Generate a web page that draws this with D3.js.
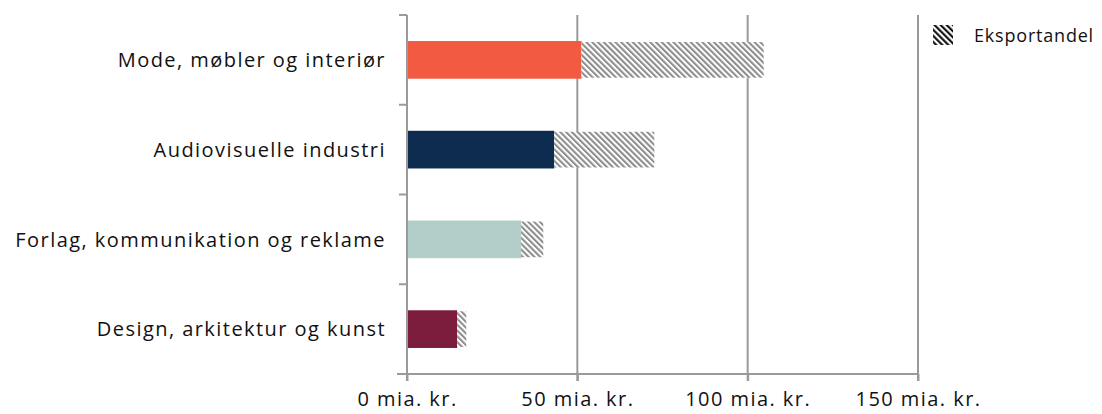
<!DOCTYPE html>
<html>
<head>
<meta charset="utf-8">
<script src="https://cdn.jsdelivr.net/npm/d3@7"></script>
<style>
  html, body { margin: 0; padding: 0; background: #fff; }
  svg { display: block; font-family: "Open Sans", "Noto Sans", sans-serif; }
  .lbl { letter-spacing: 1.45px; }
  .leg { letter-spacing: 0.8px; }
</style>
</head>
<body>
<svg id="chart" width="1102" height="414"></svg>
<script>
// Creative industries: domestic turnover and export share (billion DKK)
const categories = [
  "Mode, møbler og interiør",
  "Audiovisuelle industri",
  "Forlag, kommunikation og reklame",
  "Design, arkitektur og kunst"
];
const domestic = [51.2, 43.2, 33.5, 14.7];
const exportShare = [53.5, 29.4, 6.5, 2.7];
const barColors = ["#F25A41", "#0E2B50", "#B3CDC8", "#7B1C3C"];
const xTicks = [0, 50, 100, 150];
const xTickFormat = d => d + " mia. kr.";
const legendLabel = "Eksportandel";

const svg = d3.select("#chart");
const margin = { top: 15, left: 407, right: 184, bottom: 40 };
const width = 1102 - margin.left - margin.right;   // 511
const height = 414 - margin.top - margin.bottom;   // 359

const defs = svg.append("defs");
function hatch(id, color, size) {
  const p = defs.append("pattern")
    .attr("id", id)
    .attr("patternUnits", "userSpaceOnUse")
    .attr("width", size).attr("height", size)
    .attr("patternTransform", "rotate(-45)");
  p.append("rect").attr("width", size).attr("height", size).attr("fill", "#fff");
  p.append("rect").attr("width", size / 2).attr("height", size).attr("fill", color);
}
hatch("hatch-bar", "#8c8c8c", 4.1);
hatch("hatch-legend", "#111", 4.3);

const g = svg.append("g").attr("transform", `translate(${margin.left},${margin.top})`);

const x = d3.scaleLinear().domain([0, 150]).range([0, width]);
const y = d3.scaleBand().domain(categories).range([0, height]).paddingInner(0.58).paddingOuter(0.29);

const axisColor = "#9a9a9a";

// vertical gridlines
g.append("g").selectAll("line")
  .data(xTicks.filter(d => d > 0))
  .join("line")
  .attr("x1", d => x(d)).attr("x2", d => x(d))
  .attr("y1", 0).attr("y2", height + 7)
  .attr("stroke", axisColor).attr("stroke-width", 2);

// domestic part
g.append("g").selectAll("rect")
  .data(categories)
  .join("rect")
  .attr("x", x(0) + 1)
  .attr("y", d => y(d))
  .attr("width", (d, i) => x(domestic[i]) - x(0) - 1)
  .attr("height", y.bandwidth())
  .attr("fill", (d, i) => barColors[i]);

// export part
g.append("g").selectAll("rect")
  .data(categories)
  .join("rect")
  .attr("x", (d, i) => x(domestic[i]))
  .attr("y", d => y(d) + 1)
  .attr("width", (d, i) => x(domestic[i] + exportShare[i]) - x(domestic[i]))
  .attr("height", y.bandwidth() - 2)
  .attr("fill", "url(#hatch-bar)");

// x axis
const xAxis = g.append("g")
  .attr("transform", `translate(0,${height})`)
  .call(d3.axisBottom(x).tickValues(xTicks).tickFormat(xTickFormat).tickSizeInner(7).tickSizeOuter(0).tickPadding(11));
xAxis.select(".domain").remove();
xAxis.append("line")
  .attr("x1", -10).attr("x2", width)
  .attr("stroke", axisColor).attr("stroke-width", 2);
xAxis.selectAll(".tick line").attr("stroke", axisColor).attr("stroke-width", 2);
xAxis.selectAll(".tick text")
  .attr("class", "lbl")
  .attr("fill", "#111").attr("font-size", 20)
  .style("font-family", "'Open Sans', 'Noto Sans', sans-serif");

// y axis with boundary ticks between categories
g.append("line")
  .attr("x1", 0).attr("x2", 0).attr("y1", 0).attr("y2", height + 7)
  .attr("stroke", axisColor).attr("stroke-width", 2);
const step = height / categories.length;
g.append("g").selectAll("line")
  .data(d3.range(categories.length))
  .join("line")
  .attr("x1", -8).attr("x2", 0)
  .attr("y1", i => i * step).attr("y2", i => i * step)
  .attr("stroke", axisColor).attr("stroke-width", 2);

// category labels
g.append("g").selectAll("text")
  .data(categories)
  .join("text")
  .attr("class", "lbl")
  .attr("x", -21)
  .attr("y", d => y(d) + y.bandwidth() / 2)
  .attr("dy", "0.36em")
  .attr("text-anchor", "end")
  .attr("font-size", 20)
  .attr("fill", "#111")
  .text(d => d);

// legend
const legend = svg.append("g").attr("transform", "translate(933,25)");
legend.append("rect").attr("width", 20).attr("height", 20).attr("fill", "url(#hatch-legend)");
legend.append("text")
  .attr("class", "leg")
  .attr("x", 41).attr("y", 11).attr("dy", "0.36em")
  .attr("font-size", 18).attr("fill", "#111")
  .text(legendLabel);
</script>
</body>
</html>
